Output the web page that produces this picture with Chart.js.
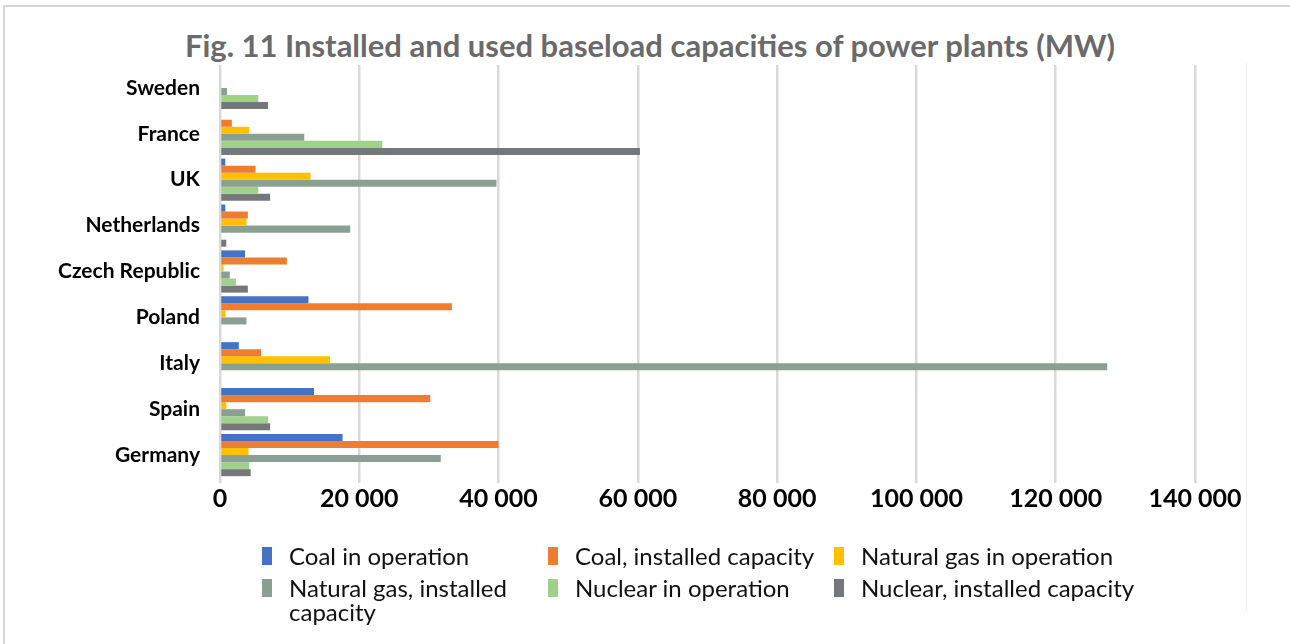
<!DOCTYPE html>
<html>
<head>
<meta charset="utf-8">
<script src="https://cdn.jsdelivr.net/npm/chart.js@4.4.1/dist/chart.umd.min.js"></script>
<style>
  html, body { margin: 0; padding: 0; background: #fff; }
  body { width: 1290px; height: 644px; position: relative; overflow: hidden; font-family: Lato, sans-serif; }
  #frame { position: absolute; left: 3px; top: 5px; width: 1300px; height: 660px; border-top: 2px solid #d6d6d6; border-left: 2px solid #d6d6d6; }
  #rightLine { position: absolute; left: 1246px; top: 63px; width: 1px; height: 548px; background: #eeeeee; }
  #wrap { position: absolute; left: 0; top: 0; width: 1290px; height: 644px; }
  #titulo { position: absolute; left: 10px; width: 1280px; top: 26px; text-align: center; font-size: 31px; line-height: 38px; font-weight: bold; color: #6a6a6a; white-space: nowrap; }
  #legend { position: absolute; left: 262px; top: 544px; display: grid; grid-template-columns: 286px 286px 330px; row-gap: 8px; font-size: 24px; line-height: 24px; color: #111; }
  .item { display: flex; align-items: flex-start; }
  .box { width: 10px; height: 18px; margin-top: 3px; margin-right: 17px; flex: none; }
  .txt { max-width: 255px; }
  .item:nth-child(3n) .txt { max-width: 300px; }
</style>
</head>
<body>
<div id="frame"></div>
<div id="rightLine"></div>
<div id="titulo">Fig. 11 Installed and used baseload capacities of power plants (MW)</div>
<div id="wrap"><canvas id="grafico" width="1290" height="644"></canvas></div>
<div id="legend"></div>
<script>
// Dados (MW)
const paises = ['Sweden', 'France', 'UK', 'Netherlands', 'Czech Republic', 'Poland', 'Italy', 'Spain', 'Germany'];
const carvaoOperacao = [0, 0, 760, 760, 3600, 12700, 2700, 13500, 17600];
const carvaoInstalado = [0, 1700, 5100, 4000, 9600, 33300, 5900, 30200, 40000];
const gasOperacao = [0, 4200, 13000, 3800, 500, 800, 15800, 900, 4100];
const gasInstalado = [1000, 12100, 39700, 18700, 1400, 3800, 127400, 3600, 31700];
const nuclearOperacao = [5500, 23300, 5500, 0, 2300, 0, 0, 6900, 4200];
const nuclearInstalado = [6900, 60300, 7200, 900, 4000, 0, 0, 7200, 4400];
const xTicks = [0, 20000, 40000, 60000, 80000, 100000, 120000, 140000];

const series = [
    { label: 'Coal in operation', data: carvaoOperacao, cor: '#4472c4' },
    { label: 'Coal, installed capacity', data: carvaoInstalado, cor: '#ed7d31' },
    { label: 'Natural gas in operation', data: gasOperacao, cor: '#ffc000' },
    { label: 'Natural gas, installed capacity', data: gasInstalado, cor: '#8c9f93' },
    { label: 'Nuclear in operation', data: nuclearOperacao, cor: '#9fd18b' },
    { label: 'Nuclear, installed capacity', data: nuclearInstalado, cor: '#75787b' }
];

const formatar = v => String(v).replace(/\B(?=(\d{3})+(?!\d))/g, ' ');

const ctx = document.getElementById('grafico').getContext('2d');
const chart = new Chart(ctx, {
    type: 'bar',
    data: {
        labels: paises,
        datasets: series.map(s => ({
            label: s.label,
            data: s.data,
            backgroundColor: s.cor,
            borderWidth: 0,
            categoryPercentage: 0.92,
            barPercentage: 1
        }))
    },
    options: {
        indexAxis: 'y',
        responsive: false,
        animation: false,
        layout: { padding: { left: 10, right: 95, top: 65, bottom: 129 } },
        plugins: {
            legend: { display: false },
            tooltip: { enabled: false },
            title: { display: false }
        },
        scales: {
            x: {
                min: 0,
                max: 140000,
                afterBuildTicks: scale => { scale.ticks = xTicks.map(v => ({ value: v })); },
                grid: { color: '#d9d9d9', lineWidth: 2.5, tickLength: 5 },
                border: { display: false },
                ticks: {
                    color: '#000',
                    padding: 1,
                    maxRotation: 0,
                    font: { family: 'Lato', size: 25, weight: 'bold' },
                    callback: v => formatar(v)
                }
            },
            y: {
                grid: { display: false, drawTicks: false },
                border: { display: false },
                afterFit: scale => { scale.width = 210; },
                ticks: {
                    color: '#000',
                    padding: 20,
                    font: { family: 'Lato', size: 21, weight: 'bold' }
                }
            }
        }
    }
});

// Legenda em HTML
const legenda = document.getElementById('legend');
chart.data.datasets.forEach(ds => {
    const item = document.createElement('div');
    item.classList.add('item');
    item.innerHTML = `<span class="box" style="background:${ds.backgroundColor}"></span><span class="txt">${ds.label}</span>`;
    legenda.appendChild(item);
});
</script>
</body>
</html>
